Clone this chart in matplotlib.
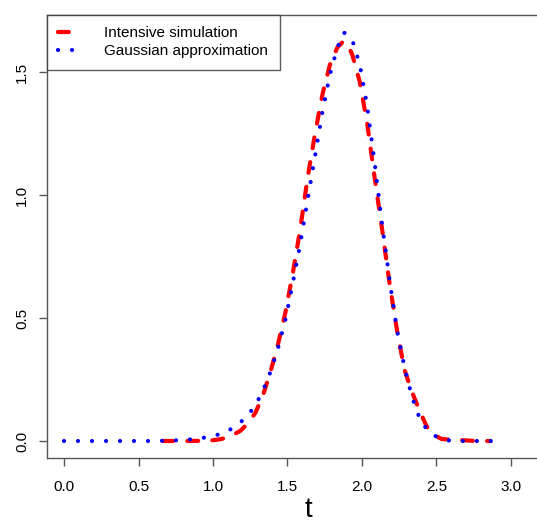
import matplotlib
matplotlib.use("Agg")
import matplotlib.pyplot as plt
from matplotlib.lines import Line2D

plt.rcParams['font.family'] = ['Liberation Sans', 'DejaVu Sans']

# Gaussian approximation (blue dotted)
t_gauss = [0.0, 0.1, 0.2, 0.3, 0.4, 0.5, 0.6, 0.735, 0.835, 0.935, 0.985, 1.035,
           1.085, 1.135, 1.185, 1.235, 1.285, 1.335, 1.385, 1.435, 1.485, 1.535,
           1.585, 1.635, 1.685, 1.735, 1.785, 1.835, 1.88, 1.935, 1.985, 2.035,
           2.085, 2.135, 2.185, 2.235, 2.285, 2.335, 2.385, 2.435, 2.485, 2.535,
           2.585, 2.635, 2.735, 2.835, 2.95]
y_gauss = [0.0, 0.0, 0.0, 0.0, 0.0, 0.0, 0.0, 0.002, 0.006, 0.013, 0.018, 0.026,
           0.037, 0.053, 0.076, 0.106, 0.145, 0.205, 0.28, 0.375, 0.49, 0.64, 0.80,
           0.98, 1.16, 1.34, 1.49, 1.60, 1.66, 1.63, 1.53, 1.36, 1.13, 0.88, 0.655,
           0.45, 0.30, 0.18, 0.095, 0.047, 0.022, 0.009, 0.002, 0.0, 0.0, 0.0, 0.0]

# Intensive simulation (red dashed)
t_sim = [0.66, 0.75, 0.85, 0.935, 0.985, 1.035, 1.085, 1.135, 1.185, 1.235,
         1.285, 1.335, 1.385, 1.435, 1.485, 1.535, 1.585, 1.635, 1.685, 1.735,
         1.785, 1.835, 1.875, 1.905, 1.935, 1.985, 2.035, 2.085, 2.135, 2.185,
         2.235, 2.285, 2.335, 2.385, 2.435, 2.485, 2.535, 2.585, 2.635, 2.685,
         2.735, 2.785, 2.86]
y_sim = [0.0, 0.0, 0.0, 0.001, 0.002, 0.006, 0.012, 0.025, 0.042, 0.072, 0.115,
         0.185, 0.28, 0.39, 0.52, 0.68, 0.86, 1.07, 1.25, 1.41, 1.53, 1.60, 1.625,
         1.61, 1.57, 1.46, 1.29, 1.07, 0.86, 0.64, 0.45, 0.29, 0.20, 0.125, 0.058,
         0.025, 0.008, 0.006, 0.004, 0.003, 0.001, 0.0, 0.0]

x_ticks = [0.0, 0.5, 1.0, 1.5, 2.0, 2.5, 3.0]
y_ticks = [0.0, 0.5, 1.0, 1.5]
legend_labels = ["Intensive simulation", "Gaussian approximation"]

W, H = 537, 522
fig = plt.figure(figsize=(W / 100, H / 100), dpi=100)
ax = fig.add_axes([47 / W, (H - 458) / H, (570 - 47) / W, (458 - 15) / H])

# map: px 64 -> 0, 149 px per unit ; y: px 441 -> 0, 246 px per unit
x0 = (47 - 64) / 149
x1 = (570 - 64) / 149
ax.set_xlim(x0, x1)
ax.set_ylim((441 - 458) / 246, (441 - 15) / 246)

red_dash = dict(color='#FF0000', lw=3.0, dashes=(2.6, 3.4), dash_capstyle='round',
                solid_capstyle='round')
blue_dot = dict(color='#0000FF', lw=3.0, dashes=(0.01, 3.35), dash_capstyle='round')

ax.plot(t_sim, y_sim, **red_dash)
ax.plot(t_gauss, y_gauss, **blue_dot)

for s in ax.spines.values():
    s.set_color('#555555')
    s.set_linewidth(1.0)

ax.set_xticks(x_ticks)
ax.set_xticklabels([f"{v:.1f}" for v in x_ticks])
ax.set_yticks(y_ticks)
ax.set_yticklabels([f"{v:.1f}" for v in y_ticks], rotation=90, va='center')
ax.tick_params(axis='both', direction='out', length=6, width=1.0, color='#555555',
               labelsize=11)
ax.tick_params(axis='x', pad=10)
ax.tick_params(axis='y', pad=7)

ax.set_xlabel("t", fontsize=20, labelpad=2)

handles = [Line2D([], [], **red_dash), Line2D([], [], **blue_dot)]
leg = ax.legend(handles, legend_labels, loc='upper left', bbox_to_anchor=(0, 1),
                borderaxespad=0, frameon=True, fancybox=False, fontsize=11,
                handlelength=1.5, handletextpad=1.5, borderpad=0.75,
                labelspacing=0.25)
leg.get_frame().set_edgecolor('#333333')
leg.get_frame().set_linewidth(1.0)

fig.savefig("out.png", dpi=100)
